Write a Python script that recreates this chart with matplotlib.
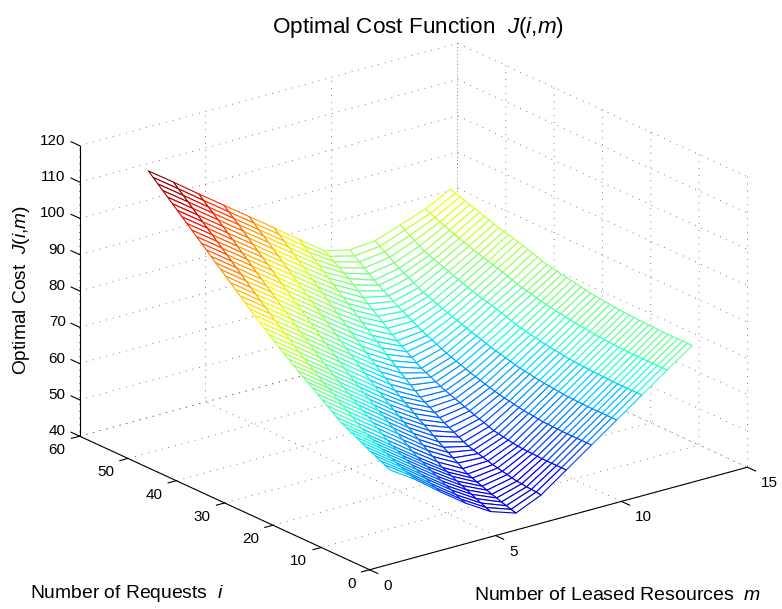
import numpy as np
import matplotlib
matplotlib.use('Agg')
import matplotlib.pyplot as plt
from mpl_toolkits.mplot3d import proj3d

plt.rcParams['font.family'] = ['Liberation Sans', 'DejaVu Sans']
plt.rcParams['mathtext.fontset'] = 'custom'
plt.rcParams['mathtext.it'] = 'Liberation Sans:italic'
plt.rcParams['mathtext.rm'] = 'Liberation Sans'

# number of leased resources m (rows) and number of requests i (columns)
leased = list(range(1, 14))
requests = list(range(1, 52))

cost_m1 = [65,65.7,66.3,67,67.6,68.3,69,69.7,70.4,71.1,71.8,72.7,73.7,74.7,75.7,76.7,77.7,78.7,79.6,80.6,81.6,82.6,83.7,84.7,85.8,86.9,88.1,89.2,90.4,91.5,92.7,93.9,95.1,96.3,97.5,98.7,99.9,101.1,102.3,103.5,104.7,105.9,107.1,108.3,109.5,110.7,111.9,113.1,114.3,115.5,116.7]
cost_m2 = [60.5,61,61.5,62.1,62.7,63.3,64,64.7,65.4,66.1,66.8,67.7,68.7,69.7,70.7,71.7,72.7,73.7,74.6,75.6,76.6,77.6,78.7,79.7,80.8,81.9,83.1,84.2,85.4,86.5,87.7,88.9,90.1,91.3,92.5,93.7,94.9,96.1,97.3,98.5,99.7,100.9,102.1,103.3,104.5,105.7,106.9,108.1,109.3,110.5,111.7]
cost_m3 = [55.2,55.7,56.3,57,57.6,58.3,59,59.7,60.4,61.1,61.8,62.7,63.7,64.7,65.7,66.7,67.7,68.7,69.6,70.6,71.6,72.6,73.7,74.7,75.8,76.9,78.1,79.2,80.4,81.5,82.7,83.9,85.1,86.3,87.5,88.7,89.9,91.1,92.3,93.5,94.7,95.9,97.1,98.3,99.5,100.7,101.9,103.1,104.2,105.4,106.6]
cost_m4 = [50.2,50.7,51.3,52,52.6,53.3,54,54.7,55.4,56.1,56.8,57.7,58.7,59.7,60.7,61.7,62.7,63.7,64.6,65.6,66.6,67.6,68.7,69.7,70.8,71.9,73.1,74.2,75.4,76.5,77.7,78.9,80.1,81.3,82.5,83.7,84.9,86.1,87.3,88.5,89.7,90.9,92.1,93.3,94.5,95.7,96.9,98.1,99.2,100.4,101.6]
cost_m5 = [46,46.5,47.1,47.7,48.3,48.9,49.5,50.1,50.8,51.4,52,52.9,53.8,54.8,55.7,56.7,57.7,58.7,59.6,60.6,61.6,62.6,63.7,64.7,65.8,66.9,68.1,69.2,70.4,71.5,72.7,73.9,75.1,76.3,77.5,78.7,79.9,81.1,82.3,83.5,84.7,85.9,87.1,88.3,89.5,90.7,91.9,93.1,94.2,95.4,96.6]
cost_m6 = [43.7,44.1,44.5,44.9,45.4,45.8,46.3,46.8,47.3,47.8,48.3,49.2,50.1,50.9,51.8,52.6,53.5,54.5,55.4,56.3,57.2,58.2,59.2,60.1,61.1,62.1,63.2,64.3,65.4,66.6,67.7,68.9,70.1,71.3,72.5,73.7,74.9,76.1,77.3,78.5,79.7,80.9,82.1,83.3,84.5,85.7,86.9,88.1,89.2,90.4,91.6]
cost_m7 = [46.8,47,47.1,47.2,47.4,47.5,47.8,48.1,48.4,48.7,49,49.4,49.8,50.2,50.6,51,51.6,52.3,53,53.7,54.4,55.2,56,56.8,57.6,58.4,59.5,60.5,61.6,62.6,63.7,64.8,65.9,67.1,68.2,69.3,70.4,71.6,72.7,73.9,75,76.1,77.3,78.4,79.6,80.7,81.9,83,84.2,85.3,86.5]
cost_m8 = [51.8,51.8,51.8,51.8,51.8,51.8,51.9,52,52,52.1,52.2,52.4,52.7,52.9,53.2,53.4,53.9,54.4,54.8,55.3,55.8,56.3,56.8,57.3,57.8,58.3,58.9,59.5,60.2,60.8,61.4,62.3,63.2,64.1,65,65.9,67,68.1,69.2,70.2,71.3,72.4,73.5,74.7,75.8,76.9,77.8,78.7,79.7,80.6,81.5]
cost_m9 = [56.8,56.8,56.8,56.8,56.8,56.8,56.8,56.9,56.9,57,57,57.2,57.4,57.5,57.7,57.9,58.2,58.5,58.7,59,59.3,59.7,60.1,60.5,60.9,61.3,61.8,62.3,62.7,63.2,63.7,64.3,64.9,65.5,66.1,66.7,67.4,68.2,68.9,69.7,70.4,71.2,72.1,72.9,73.8,74.6,75.7,76.7,77.8,78.8,79.9]
cost_m10 = [61.8,61.8,61.8,61.8,61.8,61.8,61.8,61.9,61.9,62,62,62.1,62.3,62.4,62.6,62.7,62.9,63.1,63.4,63.6,63.8,64.1,64.5,64.8,65.2,65.5,65.9,66.3,66.8,67.2,67.6,68.1,68.5,69,69.4,69.9,70.4,70.9,71.4,71.9,72.4,73.1,73.8,74.6,75.3,76,76.9,77.8,78.7,79.6,80.5]
cost_m11 = [66.8,66.8,66.8,66.8,66.8,66.8,66.8,66.9,66.9,67,67,67.1,67.2,67.3,67.4,67.5,67.7,67.9,68.1,68.3,68.5,68.8,69.1,69.3,69.6,69.9,70.3,70.7,71.2,71.6,72,72.4,72.8,73.1,73.5,73.9,74.4,74.9,75.3,75.8,76.3,76.8,77.3,77.8,78.3,78.8,79.6,80.5,81.3,82.2,83]
cost_m12 = [71.8,71.8,71.8,71.8,71.8,71.8,71.8,71.8,71.9,71.9,71.9,72,72.1,72.2,72.3,72.4,72.6,72.8,72.9,73.1,73.3,73.5,73.8,74,74.3,74.5,74.8,75.1,75.5,75.8,76.1,76.5,77,77.4,77.9,78.3,78.7,79.1,79.5,79.9,80.3,80.8,81.3,81.7,82.2,82.7,83.3,83.8,84.4,84.9,85.5]
cost_m13 = [76.7,76.7,76.7,76.7,76.7,76.7,76.7,76.8,76.8,76.8,76.9,76.9,77,77.1,77.2,77.3,77.4,77.6,77.7,77.9,78,78.2,78.5,78.7,79,79.2,79.5,79.7,80,80.2,80.5,80.9,81.4,81.8,82.3,82.7,83.1,83.5,83.9,84.2,84.6,85,85.5,85.9,86.4,86.8,87.3,87.7,88.2,88.6,89.1]

m_ticks = [0, 5, 10, 15]
i_ticks = [0, 10, 20, 30, 40, 50, 60]
z_ticks = [40, 50, 60, 70, 80, 90, 100, 110, 120]

Z = np.array([cost_m1, cost_m2, cost_m3, cost_m4, cost_m5, cost_m6, cost_m7,
              cost_m8, cost_m9, cost_m10, cost_m11, cost_m12, cost_m13])
M, I = np.meshgrid(leased, requests, indexing='ij')

W, H = 782, 609
fig = plt.figure(figsize=(W / 100, H / 100), dpi=100)
ax = fig.add_axes([43.8 / W, -67.2 / H, 720 / W, 720 / H], projection='3d', proj_type='ortho')
ax.set_box_aspect((1, 1, 0.652))
ax.view_init(elev=20.7, azim=-127.5)
ax.patch.set_alpha(0)

# mesh: white faces, edges coloured by height
surf = ax.plot_surface(M, I, Z, rstride=1, cstride=1, color='white', shade=False,
                       linewidth=0.8, edgecolor='k', antialiased=True)
quad = (Z[:-1, :-1] + Z[1:, :-1] + Z[:-1, 1:] + Z[1:, 1:]) / 4
norm = plt.Normalize(40.6, 113)
surf.set_edgecolor(plt.cm.jet(norm(quad.ravel())))

ax.set_xlim(0, 15)
ax.set_ylim(0, 60)
ax.set_zlim(40, 120)
ax.set_xticks(m_ticks)
ax.set_yticks(i_ticks)
ax.set_zticks(z_ticks)
ax.set_xticklabels([])
ax.set_yticklabels([])
ax.set_zticklabels([])

for axis in (ax.xaxis, ax.yaxis, ax.zaxis):
    axis.set_pane_color((1, 1, 1, 0))
    axis.pane.set_edgecolor('none')
    axis.line.set_linewidth(0.8)
    axis.line.set_color('k')
    axis._axinfo['grid'].update(color='#333333', linestyle=(0, (1, 8)), linewidth=0.55)
    axis._axinfo['tick']['linewidth'] = {True: 0.8, False: 0.8}

# ticks stick out of the box, z ticks run along the i direction
ax.xaxis._axinfo['tick'].update(inward_factor=0.35, outward_factor=0.0)
ax.yaxis._axinfo['tick'].update(inward_factor=0.27, outward_factor=0.0)
ax.zaxis._axinfo['tick'].update(inward_factor=0.0, outward_factor=0.37)
ax.zaxis._get_tickdir = lambda pos: 1


def tick_label(x, y, z, s, dx, dy, ha):
    px, py, _ = proj3d.proj_transform(x, y, z, ax.get_proj())
    ax.annotate(s, xy=(px, py), xycoords='data', xytext=(dx, dy), textcoords='offset pixels',
                fontsize=11, ha=ha, va='center', annotation_clip=False)


for m in m_ticks:
    tick_label(m, 0, 40, str(m), 13.5, -16, 'left')
for i in i_ticks:
    tick_label(0, i, 40, str(i), -14, -14, 'right')
for z in z_ticks:
    tick_label(0, 60, z, str(z), -14, 5, 'right')

# text in the reference's pixel positions
fig.text(418 / W, 1 - 27 / H, r'Optimal Cost Function  $\mathit{J(i{,}m)}$', fontsize=16.2, ha='center', va='center')
fig.text(30 / W, 1 - 593 / H, r'Number of Requests  $\mathit{i}$', fontsize=13.9, ha='left', va='center')
fig.text(474 / W, 1 - 596 / H, r'Number of Leased Resources  $\mathit{m}$', fontsize=14, ha='left', va='center')
fig.text(22 / W, 1 - 290 / H, r'Optimal Cost  $\mathit{J(i{,}m)}$', fontsize=13.8, rotation=90, ha='center', va='center')

fig.savefig('out.png', dpi=100)
